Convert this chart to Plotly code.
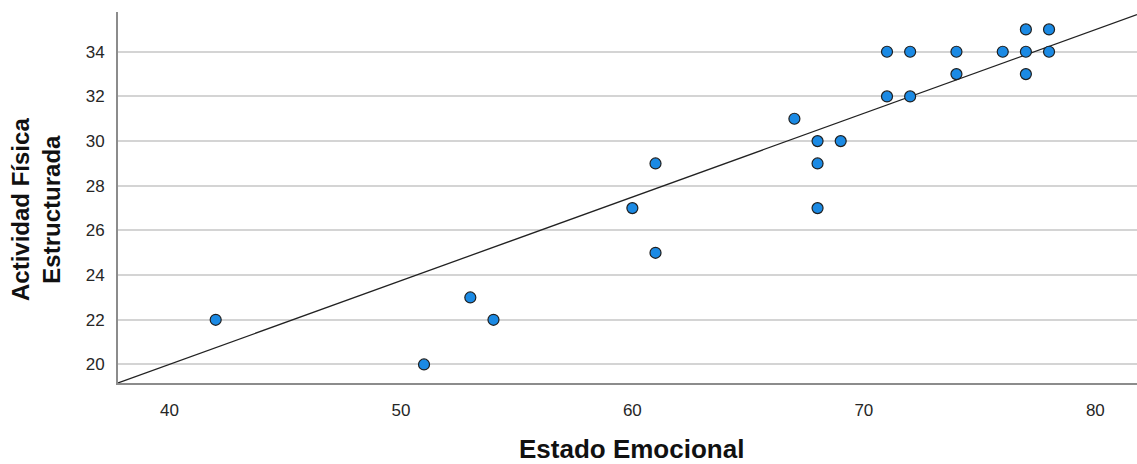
import plotly.graph_objects as go

# Observations: emotional state score vs. structured physical activity score
estado_emocional = [42, 51, 53, 54, 60, 61, 61, 67, 68, 68, 68, 69,
                    71, 71, 72, 72, 74, 74, 76, 77, 77, 77, 78, 78]
actividad_fisica = [22, 20, 23, 22, 27, 29, 25, 31, 30, 29, 27, 30,
                    34, 32, 34, 32, 34, 33, 34, 35, 34, 33, 35, 34]

# Total fit line (linear): y = intercept + slope * x
fit_intercept = 5.02
fit_slope = 0.3746

x_ticks = [40, 50, 60, 70, 80]
y_ticks = [20, 22, 24, 26, 28, 30, 32, 34]

x_range = [37.78, 81.8]
y_range = [19.17, 35.78]

W, H = 1137, 464
M_L, M_R, M_T, M_B = 118, 0, 12, 81

fig = go.Figure()

fig.add_trace(go.Scatter(
    x=x_range,
    y=[fit_intercept + fit_slope * v for v in x_range],
    mode="lines",
    line=dict(color="#222222", width=1.3),
    hoverinfo="skip",
    showlegend=False,
))

fig.add_trace(go.Scatter(
    x=estado_emocional,
    y=actividad_fisica,
    mode="markers",
    marker=dict(size=11, color="#1b8ae4",
                line=dict(color="#1f1f1f", width=1.2)),
    showlegend=False,
))

tick_font = dict(family="Liberation Sans, Arial, sans-serif", size=17, color="#262626")


def px_to_paper(px, py):
    """Pixel position in the page -> paper coordinates of the plot area."""
    return ((px - M_L) / (W - M_L - M_R), (H - M_B - py) / (H - M_T - M_B))


xt_x, xt_y = px_to_paper(631, 449)
yt_x, yt_y = px_to_paper(36, 210)

fig.update_layout(
    width=W,
    height=H,
    margin=dict(l=M_L, r=M_R, t=M_T, b=M_B),
    paper_bgcolor="white",
    plot_bgcolor="white",
    xaxis=dict(
        range=x_range,
        tickvals=x_ticks,
        showgrid=False,
        zeroline=False,
        showline=True,
        linecolor="#8c8c8c",
        linewidth=2,
        ticks="",
        ticklabelstandoff=11,
        tickfont=tick_font,
    ),
    yaxis=dict(
        range=y_range,
        tickvals=y_ticks,
        showgrid=True,
        gridcolor="#d4d4d4",
        gridwidth=2,
        zeroline=False,
        showline=True,
        linecolor="#8c8c8c",
        linewidth=2,
        ticks="",
        ticklabelstandoff=8,
        tickfont=tick_font,
    ),
    annotations=[
        dict(
            text="<b>Estado Emocional</b>",
            x=xt_x, y=xt_y, xref="paper", yref="paper",
            xanchor="center", yanchor="middle",
            borderpad=0,
            showarrow=False,
            font=dict(family="Liberation Sans, Arial, sans-serif", size=26, color="#111111"),
        ),
        dict(
            text="<b>Actividad Física<br>Estructurada</b>",
            x=yt_x, y=yt_y, xref="paper", yref="paper",
            xanchor="center", yanchor="middle",
            borderpad=0,
            showarrow=False,
            textangle=-90,
            font=dict(family="Liberation Sans, Arial, sans-serif", size=24, color="#111111"),
        ),
    ],
)

fig.write_html("out.html")
